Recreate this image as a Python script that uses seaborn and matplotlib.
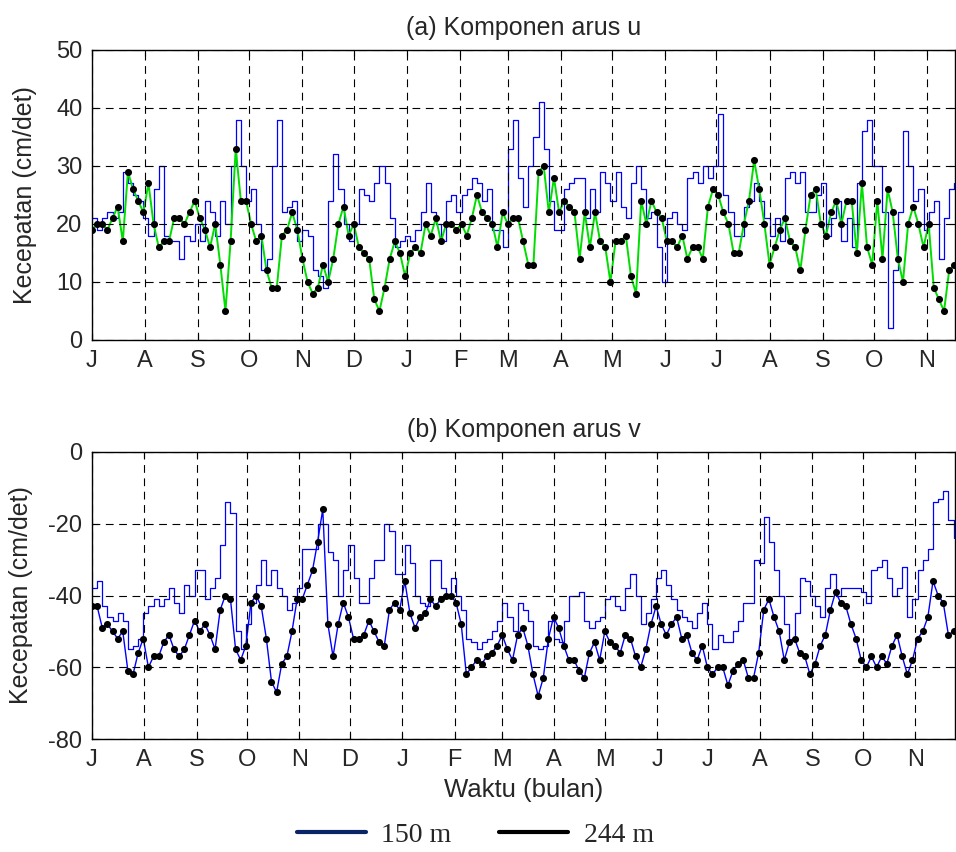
import numpy as np
import pandas as pd
import matplotlib
matplotlib.use('Agg')
import matplotlib.pyplot as plt
import seaborn as sns
from matplotlib.lines import Line2D

# ---------------- data ----------------
month_labels = ['J', 'A', 'S', 'O', 'N', 'D', 'J', 'F', 'M', 'A', 'M', 'J', 'J', 'A', 'S', 'O', 'N']
month_days = [0, 31, 62, 92, 123, 153, 184, 215, 243, 274, 304, 335, 365, 396, 427, 457, 488]

# (a) u component, 150 m (cm/det), one value every ~3 days from 1 July
u150 = [21, 19, 21, 22, 21, 22, 29, 27, 25, 24, 21, 18, 26, 30, 18, 17, 17, 14, 18, 17,
        20, 17, 24, 22, 18, 24, 20, 30, 38, 30, 24, 26, 20, 12, 14, 30, 38, 22, 23, 24,
        17, 19, 18, 12, 11,
        9, 24, 32, 26, 20, 17, 20, 26, 25, 24, 27, 30, 27, 21, 16, 17, 18, 17, 19, 22,
        27, 22, 20, 17, 24, 25, 22, 25, 26, 28, 27, 24, 26, 19, 19, 16, 33, 38, 28, 23, 30,
        35, 41, 33, 24, 19, 19, 26, 27, 28, 28, 21, 26, 22, 29, 27, 24, 29, 23, 21, 27,
        30, 26, 21, 22, 16, 10, 21, 22, 20, 19, 28, 29, 27, 30, 28, 30, 39, 25, 22, 18,
        18, 23, 24, 27, 24, 21, 18, 21, 17, 28, 29, 27, 29, 22, 22, 25, 27, 18, 21, 24,
        17, 21, 16, 27, 36, 38, 30, 30, 22, 2, 12, 22, 36, 30, 24, 26, 19, 22, 24, 14,
        21, 26, 27]
# (a) u component, 244 m
u244 = [19, 20, 20, 19, 21, 23, 17, 29, 26, 24, 22, 27, 20, 16, 17, 17, 21, 21, 20, 22,
        24, 21, 19, 16, 20, 13, 5, 17, 33, 24, 24, 20, 17, 18, 12, 9, 9, 18, 19, 22,
        19, 14, 10, 8, 9,
        13, 10, 14, 20, 23, 18, 20, 16, 15, 14, 7, 5, 9, 14, 17, 15, 11, 15, 16, 15,
        20, 18, 21, 17, 20, 20, 19, 20, 18, 21, 25, 22, 21, 20, 16, 22, 20, 21, 21, 17, 13,
        13, 29, 30, 22, 28, 22, 24, 23, 22, 14, 22, 16, 22, 17, 16, 10, 17, 17, 18, 11,
        8, 24, 20, 24, 22, 21, 17, 17, 16, 18, 14, 16, 16, 14, 23, 26, 25, 22, 20, 15,
        15, 20, 24, 31, 26, 20, 13, 16, 19, 21, 17, 16, 12, 19, 25, 26, 20, 18, 22, 24,
        20, 24, 24, 15, 27, 16, 13, 24, 14, 26, 22, 14, 10, 20, 23, 20, 16, 20, 9, 7,
        5, 12, 13]
# (b) v component, 150 m
v150 = [-38, -36, -43, -46, -47, -45, -47, -55, -54, -52, -45, -43, -41, -43, -41, -38, -42, -45, -37, -40,
        -33, -33, -41, -38, -35, -26, -14, -17, -50, -55, -48, -42, -37, -30, -37, -33, -38, -40, -44, -42,
        -38, -27, -27, -27, -20,
        -20, -28, -30, -40, -33, -26, -35, -42, -42, -35, -30, -30, -20, -22, -34, -34, -26, -31, -40, -42,
        -43, -30, -30, -38, -40, -35, -40, -44, -52, -53, -55, -53, -52, -50, -47, -42, -46, -50, -42, -44, -47,
        -54, -55, -54, -47, -52, -53, -47, -40, -40, -39, -47, -49, -47, -46, -41, -40, -43, -44, -38, -34,
        -40, -48, -45, -41, -35, -33, -37, -41, -44, -46, -47, -49, -45, -42, -48, -55, -51, -53, -53, -50,
        -47, -42, -42, -30, -31, -18, -25, -33, -40, -48, -52, -45, -35, -36, -40, -43, -46, -38, -34, -40,
        -38, -38, -38, -38, -39, -42, -33, -32, -30, -35, -40, -38, -32, -46, -41, -33, -30, -27, -14, -13,
        -11, -19, -24]
# (b) v component, 244 m
v244 = [-43, -43, -49, -48, -50, -52, -50, -61, -62, -56, -52, -60, -57, -57, -53, -51, -55, -57, -55, -51,
        -47, -50, -48, -51, -55, -44, -40, -41, -55, -58, -54, -42, -40, -43, -52, -64, -67, -59, -57, -50,
        -41, -41, -37, -33, -25,
        -16, -48, -57, -48, -42, -46, -52, -52, -51, -47, -50, -53, -54, -44, -42, -44, -36, -45, -49, -46,
        -45, -41, -43, -41, -40, -40, -42, -48, -62, -60, -58, -59, -57, -56, -54, -51, -55, -58, -51, -49, -54,
        -62, -68, -63, -52, -46, -49, -54, -58, -58, -61, -63, -56, -53, -58, -50, -53, -54, -56, -51, -52,
        -57, -60, -55, -48, -43, -48, -51, -48, -46, -52, -51, -56, -58, -54, -60, -62, -60, -60, -65, -61,
        -59, -58, -63, -63, -56, -44, -41, -46, -50, -58, -53, -52, -56, -57, -62, -59, -54, -51, -44, -39,
        -42, -43, -48, -52, -58, -60, -57, -60, -57, -59, -54, -51, -57, -62, -58, -52, -50, -46, -36, -40,
        -42, -51, -50]

step_u = 3.0    # days between samples, panel (a)
step_v = 3.04   # days between samples, panel (b)
t_u = np.arange(len(u150)) * step_u
t_v = np.arange(len(v150)) * step_v

# ---------------- style ----------------
sns.set_style('ticks')
plt.rcParams['font.family'] = ['Liberation Sans', 'DejaVu Sans']
plt.rcParams['axes.linewidth'] = 1.0
plt.rcParams['axes.unicode_minus'] = False

fig = plt.figure(figsize=(9.56, 8.52), dpi=100)
ax1 = fig.add_axes([92 / 956, 1 - 340 / 852, 863 / 956, 290 / 852])
ax2 = fig.add_axes([92 / 956, 1 - 739 / 852, 863 / 956, 287 / 852])

grid_kw = dict(color='black', linestyle=(0, (7, 5)), linewidth=0.8)

# panel (a)
sns.lineplot(x=t_u, y=u150, ax=ax1, color='#0000ff', linewidth=0.9,
             drawstyle='steps-post', estimator=None, sort=False)
sns.lineplot(x=t_u, y=u244, ax=ax1, color='#00dd00', linewidth=1.4,
             estimator=None, sort=False)
sns.scatterplot(x=t_u, y=u244, ax=ax1, color='black', s=26, linewidth=0, zorder=5)
ax1.set_xlim(0, 504.4)
ax1.set_ylim(0, 50)
ax1.set_yticks([0, 10, 20, 30, 40, 50])
ax1.set_title('(a) Komponen arus u', fontsize=18, pad=11)

# panel (b)
sns.lineplot(x=t_v, y=v150, ax=ax2, color='#0000ff', linewidth=0.9,
             drawstyle='steps-post', estimator=None, sort=False)
sns.lineplot(x=t_v, y=v244, ax=ax2, color='#0000ff', linewidth=1.0,
             estimator=None, sort=False)
sns.scatterplot(x=t_v, y=v244, ax=ax2, color='black', s=26, linewidth=0, zorder=5)
ax2.set_xlim(0, 511.6)
ax2.set_ylim(-80, 0)
ax2.set_yticks([-80, -60, -40, -20, 0])
ax2.set_title('(b) Komponen arus v', fontsize=18, pad=11)
ax2.set_xlabel('Waktu (bulan)', fontsize=18.5, labelpad=5)

for ax, lx in ((ax1, -0.0637), (ax2, -0.068)):
    ax.set_xticks(month_days)
    ax.set_xticklabels(month_labels)
    ax.grid(True, **grid_kw)
    ax.set_axisbelow(False)
    ax.tick_params(direction='in', length=4, top=True, right=True,
                   labelsize=17, pad=7, color='black')
    ax.set_ylabel('Kecepatan (cm/det)', fontsize=18)
    ax.yaxis.set_label_coords(lx, 0.5)
    for sp in ax.spines.values():
        sp.set_visible(True)
        sp.set_color('black')

handles = [Line2D([], [], color='#0b2466', lw=3), Line2D([], [], color='black', lw=3)]
fig.legend(handles, ['150 m', '244 m'], loc='center', bbox_to_anchor=(0.497, 1 - 835 / 852),
           ncol=2, frameon=False, prop={'family': 'Liberation Serif', 'size': 20},
           handlelength=2.5, handletextpad=0.55, columnspacing=1.7)

fig.savefig('out.png', dpi=100)
